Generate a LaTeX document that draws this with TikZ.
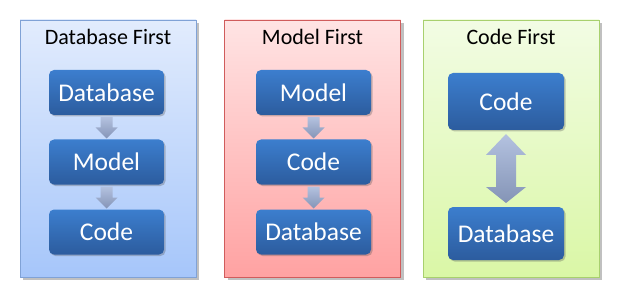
\documentclass[tikz,border=0pt]{standalone}
\usepackage{fontspec}
\setmainfont{Carlito}
\usetikzlibrary{calc,shadows}
\definecolor{boxtop}{RGB}{60,126,206}
\definecolor{boxbot}{RGB}{44,92,158}
\definecolor{arrtop}{RGB}{180,194,224}
\definecolor{arrbot}{RGB}{132,148,182}
\definecolor{bluetop}{RGB}{226,236,253}
\definecolor{bluebot}{RGB}{166,198,250}
\definecolor{blueedge}{RGB}{128,162,214}
\definecolor{redtop}{RGB}{255,228,228}
\definecolor{redbot}{RGB}{255,162,162}
\definecolor{rededge}{RGB}{208,92,92}
\definecolor{greentop}{RGB}{242,252,228}
\definecolor{greenbot}{RGB}{218,247,166}
\definecolor{greenedge}{RGB}{168,208,110}
\tikzset{
  panel/.style={draw=#1edge, line width=0.8pt, top color=#1top, bottom color=#1bot,
    minimum width=176pt, minimum height=257pt, inner sep=0pt, outer sep=0pt,
    drop shadow={shadow xshift=3pt, shadow yshift=-3pt, opacity=0.35, fill=black!70}},
  stepbox/.style={rounded corners=5pt, top color=boxtop, bottom color=boxbot,
    minimum width=115pt, minimum height=45pt, inner sep=0pt, outer sep=0pt,
    text=white, font=\fontsize{25.5}{28}\selectfont,
    drop shadow={shadow xshift=1.5pt, shadow yshift=-1.5pt, opacity=0.3, fill=black!70}},
  title/.style={font=\fontsize{22}{26}\selectfont, text=black, inner sep=0pt},
  arrowfill/.style={top color=arrtop, bottom color=arrbot},
}
\newcommand\myDownArrow[2]{%
  \shade[arrowfill] ($(#1.south)+(-6,2)$) -- ($(#2.north)+(-6,-12)$) -- ($(#2.north)+(-11,-12)$)
    -- ($(#2.north)+(0,-1)$) -- ($(#2.north)+(11,-12)$) -- ($(#2.north)+(6,-12)$)
    -- ($(#1.south)+(6,2)$) -- cycle;}
\begin{document}
\begin{tikzpicture}[x=1pt,y=-1pt]
\useasboundingbox (0,0) rectangle (620,299);
\fill[white] (0,0) rectangle (620,299);
% panels
\node[panel=blue]  (p1) at (108,148.5) {};
\node[panel=red]   (p2) at (312.5,148.5) {};
\node[panel=green] (p3) at (511,148.5) {};
\node[title] (t1) at (108,37) {Database First};
\node[title] (t2) at (312.5,37) {Model First};
\node[title] (t3) at (511,37) {Code First};
% panel 1
\node[stepbox] (a1) at (106.5,92.5) {Database};
\node[stepbox] (a2) at (106.5,162) {Model};
\node[stepbox] (a3) at (106.5,232) {Code};
% panel 2
\node[stepbox] (b1) at (313.5,92.5) {Model};
\node[stepbox] (b2) at (313.5,162) {Code};
\node[stepbox] (b3) at (313.5,232) {Database};
% panel 3
\node[stepbox, minimum width=116pt, minimum height=57pt] (c1) at (506,101.5) {Code};
\node[stepbox, minimum width=116pt, minimum height=53pt] (c2) at (506,233.5) {Database};
% arrows
\myDownArrow{a1}{a2}
\myDownArrow{a2}{a3}
\myDownArrow{b1}{b2}
\myDownArrow{b2}{b3}
\shade[arrowfill] ($(c1.south)+(0,4)$) -- ($(c1.south)+(20,25)$) -- ($(c1.south)+(10,25)$)
  -- ($(c2.north)+(10,-20)$) -- ($(c2.north)+(20,-20)$) -- ($(c2.north)+(0,-4)$)
  -- ($(c2.north)+(-20,-20)$) -- ($(c2.north)+(-10,-20)$) -- ($(c1.south)+(-10,25)$)
  -- ($(c1.south)+(-20,25)$) -- cycle;
\end{tikzpicture}
\end{document}
